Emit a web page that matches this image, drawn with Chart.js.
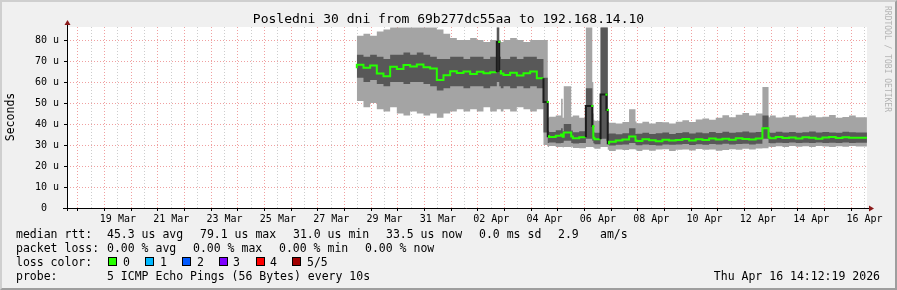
<!DOCTYPE html>
<html>
<head>
<meta charset="utf-8">
<script src="https://cdn.jsdelivr.net/npm/chart.js@4.4.1/dist/chart.umd.min.js"></script>
<style>
  html, body { margin: 0; padding: 0; }
  body { width: 897px; height: 290px; overflow: hidden; position: relative; font-family: "DejaVu Sans Mono", monospace; }
  #frame { position: absolute; left: 0; top: 0; width: 897px; height: 290px; box-sizing: border-box;
    background: #f0f0f0; border-top: 2px solid #cfcfcf; border-left: 2px solid #cfcfcf;
    border-right: 2px solid #9e9e9e; border-bottom: 2px solid #9e9e9e; }
  #chart { position: absolute; left: 0; top: 0; }
  .t { position: absolute; white-space: pre; font-size: 11.5px; line-height: 14px; color: #000; }
  .box { position: absolute; top: 257px; width: 7px; height: 7px; border: 1px solid #000; }
</style>
</head>
<body>
<div id="frame"></div>
<canvas id="chart" width="897" height="290"></canvas>

<div class="t" style="left:0;top:11px;width:897px;text-align:center;font-size:13px;line-height:16px">Posledni 30 dni from 69b277dc55aa to 192.168.14.10</div>
<div class="t" style="left:-40px;top:110px;width:100px;text-align:center;transform:rotate(-90deg)">Seconds</div>
<div class="t" style="left:827px;top:54px;width:120px;text-align:center;font-size:8px;line-height:10px;color:#b4b4b4;transform:rotate(90deg)">RRDTOOL / TOBI OETIKER</div>

<div class="t" style="left:16px;top:227px">median rtt:</div>
<div class="t" style="left:107px;top:227px">45.3 us avg</div>
<div class="t" style="left:200px;top:227px">79.1 us max</div>
<div class="t" style="left:293px;top:227px">31.0 us min</div>
<div class="t" style="left:386px;top:227px">33.5 us now</div>
<div class="t" style="left:479px;top:227px">0.0 ms sd</div>
<div class="t" style="left:558px;top:227px">2.9</div>
<div class="t" style="left:600px;top:227px">am/s</div>

<div class="t" style="left:16px;top:241px">packet loss:</div>
<div class="t" style="left:107px;top:241px">0.00 % avg</div>
<div class="t" style="left:193px;top:241px">0.00 % max</div>
<div class="t" style="left:279px;top:241px">0.00 % min</div>
<div class="t" style="left:365px;top:241px">0.00 % now</div>

<div class="t" style="left:16px;top:255px">loss color:</div>
<div class="box" style="left:108px;background:#26ff00"></div><div class="t" style="left:123px;top:255px">0</div>
<div class="box" style="left:145px;background:#00b8ff"></div><div class="t" style="left:160px;top:255px">1</div>
<div class="box" style="left:182px;background:#0059ff"></div><div class="t" style="left:197px;top:255px">2</div>
<div class="box" style="left:219px;background:#7e00ff"></div><div class="t" style="left:233px;top:255px">3</div>
<div class="box" style="left:256px;background:#ff0000"></div><div class="t" style="left:270px;top:255px">4</div>
<div class="box" style="left:292px;background:#a10000"></div><div class="t" style="left:307px;top:255px">5/5</div>

<div class="t" style="left:16px;top:269px">probe:</div>
<div class="t" style="left:107px;top:269px">5 ICMP Echo Pings (56 Bytes) every 10s</div>
<div class="t" style="left:580px;top:269px;width:300px;text-align:right">Thu Apr 16 14:12:19 2026</div>

<script>
// time axis in days counted from 1 Mar (1 Apr = 32), window = last 30 days
const startDay = 17.592;
const endDay = 47.592;

// sample times (days) and the five sorted pings, in microseconds
const times = [
  28.46, 28.71, 28.96, 29.21, 29.46, 29.71, 29.96, 30.21, 30.46, 30.71,
  30.96, 31.21, 31.46, 31.71, 31.96, 32.21, 32.46, 32.71, 32.96, 33.21,
  33.46, 33.71, 33.80, 33.86, 33.96, 34.21, 34.46, 34.71, 34.96, 35.21,
  35.46, 35.62, 35.67, 35.92, 36.12, 36.18, 36.22, 36.50, 36.56, 36.80,
  37.05, 37.29, 37.33, 37.37, 37.60, 37.82, 37.87, 37.92, 38.17, 38.42,
  38.67, 38.91, 38.95, 39.17, 39.42, 39.67, 39.92, 40.17, 40.42, 40.67,
  40.92, 41.17, 41.42, 41.67, 41.92, 42.17, 42.42, 42.67, 42.92, 43.17,
  43.42, 43.67, 43.90, 43.95, 44.17, 44.42, 44.67, 44.92, 45.17, 45.42,
  45.67, 45.92, 46.17, 46.42, 46.67, 46.92, 47.17, 47.42, 47.59
];
const pingMin = [
  49, 51, 48, 50, 47, 46, 48, 45, 44, 46,
  45, 44, 45, 43, 45, 46, 47, 46, 47, 46,
  48, 46, 47, 47, 46, 47, 46, 48, 47, 46,
  47, 30, 29, 29.5, 29, 29, 28.8, 29, 29.2, 28.6,
  28.4, 29, 29, 28.7, 28.2, 29, 29, 27.8, 27.2, 27.9,
  27.6, 28, 27.7, 27.1, 27.8, 27.3, 27.9, 28, 27.2, 27.7,
  27.9, 27.4, 28.1, 27.8, 27.9, 27.3, 27.6, 28, 27.8, 28.2,
  27.9, 28.3, 28.4, 29.2, 29, 29.4, 29.1, 29.5, 29.2, 29.4,
  29.1, 29.5, 29.3, 29.1, 29.4, 29.2, 29.5, 29.3, 29.3
];
const pingLow = [
  61, 62, 60, 61, 59, 58, 60, 60, 59, 60,
  60, 59, 58, 56, 57, 58, 58, 57, 58, 58,
  57, 58, 60, 58, 57, 58, 57, 58, 57, 58,
  57, 36, 31, 31.2, 30.8, 31, 31.1, 32, 30.9, 30.7,
  30.9, 33, 32, 30.8, 30.4, 33, 32, 30.2, 29.8, 30.1,
  30.3, 31, 30.1, 29.9, 30.2, 30, 29.8, 30.3, 30.1, 30.2,
  30.5, 30, 30.4, 30.1, 30.5, 30.2, 30.6, 30.3, 30.5, 30.6,
  30.3, 30.6, 33, 31, 30.8, 31.1, 30.9, 31.2, 30.9, 31.1,
  31, 31.2, 30.9, 31.1, 31, 31.2, 31, 31.1, 31.1
];
const pingMedian = [
  66.5, 68.2, 66.8, 67.9, 64.1, 62.8, 67.3, 66.2, 68.1, 67.4,
  68.3, 67.0, 66.4, 60.9, 63.2, 65.1, 64.3, 65.0, 63.8, 64.9,
  64.2, 64.6, 79.1, 65.2, 64.0, 63.3, 64.4, 63.1, 64.2, 65.0,
  61.8, 50.5, 34.2, 33.8, 34.4, 35, 33.9, 36, 34.1, 33.2,
  33.7, 48.6, 39, 33.5, 32.8, 54, 46.7, 30.8, 31.6, 32.2,
  32.6, 34, 32.1, 31.9, 32.7, 32.3, 31.8, 32.5, 32.1, 32.4,
  32.9, 32.2, 32.8, 32.4, 33.1, 32.6, 33.0, 32.5, 33.2, 32.9,
  32.6, 33.1, 38, 33.6, 33.2, 33.8, 33.3, 33.6, 33.1, 33.7,
  33.4, 33.0, 33.6, 33.8, 33.3, 33.7, 33.5, 33.4, 33.5
];
const pingHigh = [
  72, 73, 72, 73, 72, 71, 73, 73, 74, 73,
  74, 73, 72, 71, 71, 72, 72, 71, 72, 72,
  71, 72, 86, 72, 71, 71, 72, 71, 72, 72,
  71, 62, 36.8, 36.2, 37, 38, 36.6, 40, 36.9, 36.1,
  36.5, 57, 45, 36.2, 35.8, 86, 86, 35.2, 35.5, 35.1,
  35.6, 38, 35.3, 35.4, 35.8, 35.2, 35.6, 35.9, 35.3, 35.7,
  36.1, 35.5, 35.9, 35.6, 36.2, 35.7, 36.3, 35.8, 36.1, 36.4,
  35.9, 36.2, 44, 36.1, 35.8, 36.3, 35.9, 36.2, 35.8, 36.1,
  36.4, 35.9, 36.2, 36.0, 35.8, 36.3, 36.1, 35.9, 35.9
];
const pingMax = [
  81, 82, 83, 82, 84, 85, 86, 86, 86, 86,
  86, 86, 86, 85, 83, 81, 80, 80, 81, 80,
  79, 80, 86, 80, 79, 80, 81, 80, 79, 80,
  80, 80, 43, 43.5, 44, 52, 43, 58, 43.5, 44,
  43, 86, 60, 42, 41.5, 86, 86, 41, 40.6, 40.2,
  41, 47, 41.2, 40.4, 41.1, 40.3, 41, 40.8, 40.2, 41.1,
  41.8, 41, 42.2, 42.6, 42, 43, 44.2, 43.2, 44.4, 45.2,
  44.1, 45, 57.6, 43.2, 44, 43.1, 43.4, 44.2, 43.1, 43.5,
  44.1, 43.2, 43.4, 44.3, 43, 43.3, 44, 43.2, 43.2
];

// x tick labels, placed at noon of each labelled day
const tickDays = [19, 21, 23, 25, 27, 29, 31, 33, 35, 37, 39, 41, 43, 45, 47];
const tickLabels = ['19 Mar', '21 Mar', '23 Mar', '25 Mar', '27 Mar', '29 Mar', '31 Mar',
  '02 Apr', '04 Apr', '06 Apr', '08 Apr', '10 Apr', '12 Apr', '14 Apr', '16 Apr'];

const majorGrid = '#f0a0a0';
const minorGrid = '#cdcdcd';
const green = '#26ff00';
const mono = 'DejaVu Sans Mono';

const pts = arr => times.map((t, i) => ({ x: t, y: arr[i] }));
const band = { pointRadius: 0, borderWidth: 0, borderColor: 'transparent', stepped: 'after' };

const xGrid = [];
for (let d = 18; d <= 47.5; d += 0.5) xGrid.push(d);
const yGrid = [];
for (let v = 0; v <= 85; v += 5) yGrid.push(v);

// big jumps of the median are drawn dark, with a green dot on the new level
const jump = (a, b) => Math.abs(a - b) > 6;

// white canvas inside the plot area
const canvasBg = {
  id: 'canvasBg',
  beforeDraw(chart) {
    const { ctx, chartArea: a } = chart;
    ctx.save();
    ctx.fillStyle = '#fff';
    ctx.fillRect(a.left, a.top, a.right - a.left, a.bottom - a.top);
    ctx.restore();
  }
};

// rrdtool style axes with arrow heads
const axes = {
  id: 'axes',
  afterDraw(chart) {
    const { ctx, chartArea: a } = chart;
    const x0 = a.left + 0.5, y0 = a.bottom + 0.5;
    ctx.save();
    ctx.strokeStyle = '#000';
    ctx.lineWidth = 1;
    ctx.beginPath();
    ctx.moveTo(x0, a.top - 4);
    ctx.lineTo(x0, a.bottom + 3);
    ctx.moveTo(a.left - 4, y0);
    ctx.lineTo(a.right + 3, y0);
    ctx.stroke();
    ctx.fillStyle = '#8b1a1a';
    ctx.beginPath();
    ctx.moveTo(x0, a.top - 7);
    ctx.lineTo(x0 - 3, a.top - 2);
    ctx.lineTo(x0 + 3, a.top - 2);
    ctx.closePath();
    ctx.fill();
    ctx.beginPath();
    ctx.moveTo(a.right + 7, y0);
    ctx.lineTo(a.right + 2, y0 - 3);
    ctx.lineTo(a.right + 2, y0 + 3);
    ctx.closePath();
    ctx.fill();
    ctx.restore();
  }
};

new Chart(document.getElementById('chart'), {
  type: 'line',
  data: {
    datasets: [
      { ...band, label: 'min', data: pts(pingMin), fill: false, order: 4 },
      { ...band, label: 'max', data: pts(pingMax), fill: 0, backgroundColor: '#a4a4a4', order: 3 },
      { ...band, label: 'p2', data: pts(pingLow), fill: false, order: 2 },
      { ...band, label: 'p4', data: pts(pingHigh), fill: 2, backgroundColor: '#585858', order: 1 },
      {
        label: 'median', data: pts(pingMedian), borderColor: green, borderWidth: 2,
        stepped: 'after', fill: false, order: 0,
        segment: { borderColor: c => (jump(c.p0.parsed.y, c.p1.parsed.y) ? '#1c1c1c' : undefined) },
        pointStyle: 'rect', pointBorderWidth: 0, pointBackgroundColor: green,
        pointRadius: c => (c.dataIndex > 0 && jump(pingMedian[c.dataIndex], pingMedian[c.dataIndex - 1]) ? 1.5 : 0)
      }
    ]
  },
  options: {
    responsive: false,
    animation: false,
    devicePixelRatio: 1,
    layout: { padding: { left: 0, top: 27, right: 30, bottom: 0 } },
    plugins: { legend: { display: false }, tooltip: { enabled: false } },
    scales: {
      x: {
        type: 'linear', min: startDay, max: endDay, z: 1,
        afterBuildTicks: s => { s.ticks = xGrid.map(v => ({ value: v })); },
        afterFit: s => { s.height = 82; },
        grid: {
          color: c => (c.tick && c.tick.value % 1 === 0 ? majorGrid : minorGrid),
          tickColor: c => (c.tick && c.tick.value % 1 === 0 ? '#000' : 'transparent'),
          tickLength: 3
        },
        border: { display: false, dash: [1, 2] },
        ticks: {
          autoSkip: false, maxRotation: 0, padding: 2, color: '#000',
          font: { family: mono, size: 10 },
          callback: v => {
            const i = tickDays.indexOf(v - 0.5);
            return i >= 0 ? tickLabels[i] : '';
          }
        }
      },
      y: {
        min: 0, max: 86.2, z: 1,
        afterBuildTicks: s => { s.ticks = yGrid.map(v => ({ value: v })); },
        afterFit: s => { s.width = 67; },
        grid: {
          color: c => (c.tick && c.tick.value % 10 === 0 ? majorGrid : minorGrid),
          tickColor: '#000',
          tickLength: 3
        },
        border: { display: false, dash: [1, 2] },
        ticks: {
          padding: 5, color: '#000',
          font: { family: mono, size: 10 },
          callback: v => (v % 10 !== 0 ? '' : v === 0 ? '0  ' : v + ' u')
        }
      }
    }
  },
  plugins: [canvasBg, axes]
});
</script>
</body>
</html>
